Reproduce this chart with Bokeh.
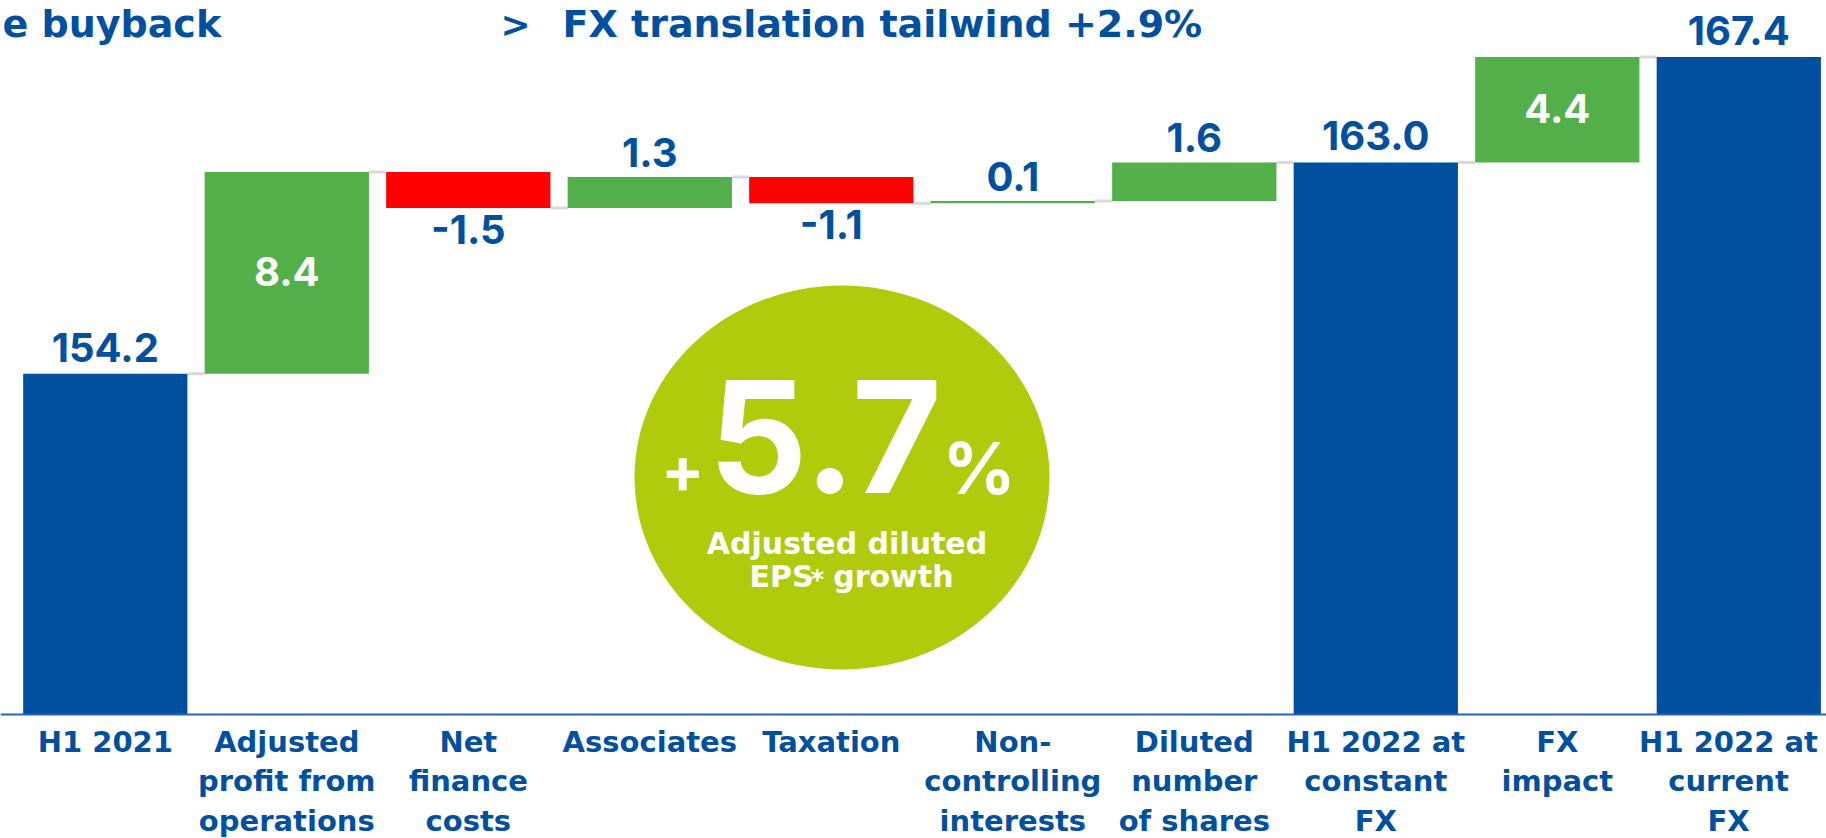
from bokeh.plotting import figure
from bokeh.models import Range1d, Span, ColumnDataSource
from bokeh.core.properties import value
from bokeh.embed import file_html
from bokeh.resources import INLINE

# ---------------- data ----------------
categories = ["H1 2021", "Adjusted profit from operations", "Net finance costs",
              "Associates", "Taxation", "Non-controlling interests",
              "Diluted number of shares", "H1 2022 at constant FX",
              "FX impact", "H1 2022 at current FX"]
tick_labels = ["H1 2021", "Adjusted\nprofit from\noperations", "Net\nfinance\ncosts",
               "Associates", "Taxation", "Non-\ncontrolling\ninterests",
               "Diluted\nnumber\nof shares", "H1 2022 at\nconstant\nFX",
               "FX\nimpact", "H1 2022 at\ncurrent\nFX"]
values = [154.2, 8.4, -1.5, 1.3, -1.1, 0.1, 1.6, 163.0, 4.4, 167.4]
is_total = [True, False, False, False, False, False, False, True, False, True]

header_left = "e buyback"
header_arrow = ">"
header_right = "FX translation tailwind +2.9%"
bubble_plus = "+"
bubble_value = "5.7"
bubble_pct = "%"
bubble_line1 = "Adjusted diluted"
bubble_eps = "EPS"
bubble_star = "*"
bubble_growth = "growth"

# ---------------- colours / fonts ----------------
BLUE = "#00509F"
GREEN = "#52AF49"
RED = "#FF0000"
LIME = "#AFCB0C"
GREY = "#D9D9D9"
WORD_FONT = value("DejaVu Sans")
NUM_FONT = value("Inter")

# ---------------- geometry ----------------
W, H = 1826, 838
K = 24.0          # px per unit
BASE = 140.0      # value at the baseline
PITCH = 181.5     # px per category
X0 = 104.8        # px of first category centre
BASE_PX = 714     # px (from top) of baseline
BW = 0.905        # bar width in category units
A = 0.39          # renderer's alphabetic-baseline shift, in em

x_start = -X0 / PITCH
x_end = (W - X0) / PITCH
y_top = BASE + BASE_PX / K
y_bot = BASE - (H - BASE_PX) / K


def fx(px):
    return x_start + px / PITCH


def fy(py):
    return y_top - py / K


def fb(py, size):
    """data y for an alphabetic baseline at page px py, for a font of size px"""
    return fy(py) + A * size / K


# ---------------- waterfall maths ----------------
n = len(values)
xs = list(range(n))
tops, bottoms, colors = [], [], []
run = 0.0
for v, t in zip(values, is_total):
    if t:
        bottoms.append(BASE)
        tops.append(v)
        run = v
        colors.append(BLUE)
    else:
        bottoms.append(run)
        run = round(run + v, 4)
        tops.append(run)
        colors.append(GREEN if v >= 0 else RED)

p = figure(width=W, height=H, output_backend="svg", toolbar_location=None,
           x_range=Range1d(x_start, x_end), y_range=Range1d(y_bot, y_top),
           x_axis_location=None, y_axis_location=None, min_border=0,
           outline_line_color=None, background_fill_color="white",
           border_fill_color="white")
p.grid.visible = False

# connectors
cx0 = [i + BW / 2 for i in range(n - 1)]
cx1 = [i + 1 - BW / 2 for i in range(n - 1)]
cy = [tops[i] for i in range(n - 1)]
p.segment(x0=cx0, y0=cy, x1=cx1, y1=cy, line_color=GREY, line_width=3)

# bars
src = ColumnDataSource(dict(x=xs, top=tops, bottom=bottoms, color=colors))
p.vbar(x="x", top="top", bottom="bottom", width=BW, fill_color="color",
       line_color=None, source=src)

# baseline
p.add_layout(Span(location=BASE, dimension="width", line_color="#2A63B2",
                  line_width=2))

# value labels
NUM_SIZE = 40
shift = A * NUM_SIZE / K
lab_x, lab_y, lab_t, lab_c = [], [], [], []
for i, (v, t) in enumerate(zip(values, is_total)):
    hi = max(tops[i], bottoms[i])
    lo = min(tops[i], bottoms[i])
    lab_x.append(i)
    lab_t.append(f"{v:.1f}")
    if t:
        lab_y.append(hi + 11 / K + shift)
        lab_c.append(BLUE)
    elif v >= 3:
        lab_y.append((hi + lo) / 2 - 14 / K + shift)
        lab_c.append("white")
    elif v >= 0:
        lab_y.append(hi + 9 / K + shift)
        lab_c.append(BLUE)
    else:
        lab_y.append(lo - 37 / K + shift)
        lab_c.append(BLUE)
p.text(x=lab_x, y=lab_y, text=lab_t, text_color=lab_c, text_font=NUM_FONT,
       text_font_style="bold", text_font_size=f"{NUM_SIZE}px", text_align="center",
       text_baseline="alphabetic", text_line_height=1.0)

# category labels
lab_cx = list(xs)
lab_cx[-1] = fx(1728)
p.text(x=lab_cx, y=[BASE - 10 / K] * n, text=tick_labels, text_color=BLUE,
       text_font=WORD_FONT, text_font_style="bold", text_font_size="29px",
       text_align="center", text_baseline="top", text_line_height=1.17)

# header
for txt, px, size in [(header_left, 2, 38), (header_arrow, 500, 36),
                      (header_right, 562, 38)]:
    p.text(x=[fx(px)], y=[fb(38, size)], text=[txt], text_color=BLUE,
           text_font=WORD_FONT, text_font_style="bold", text_font_size=f"{size}px",
           text_baseline="alphabetic", text_align="left", text_line_height=1.0)

# bubble
p.ellipse(x=[fx(841.5)], y=[fy(477)], width=[415], height=[384],
          width_units="screen", height_units="screen",
          fill_color=LIME, line_color=None)
p.text(x=[fx(704)], y=[fb(494, 64)], text=[bubble_plus], text_color="white",
       text_font=NUM_FONT, text_font_style="bold", text_font_size="64px",
       text_align="right", text_baseline="alphabetic", text_line_height=1.0)
p.text(x=[fx(708)], y=[fb(496, 155)], text=[bubble_value], text_color="white",
       text_font=NUM_FONT, text_font_style="bold", text_font_size="155px",
       text_align="left", text_baseline="alphabetic", text_line_height=1.0)
p.text(x=[fx(942)], y=[fb(495, 72)], text=[bubble_pct], text_color="white",
       text_font=NUM_FONT, text_font_style="bold", text_font_size="72px",
       text_align="left", text_baseline="alphabetic", text_line_height=1.0)
p.text(x=[fx(846.5)], y=[fb(555, 30)], text=[bubble_line1], text_color="white",
       text_font=WORD_FONT, text_font_style="bold", text_font_size="30px",
       text_align="center", text_baseline="alphabetic", text_line_height=1.0)
p.text(x=[fx(749)], y=[fb(588, 30)], text=[bubble_eps], text_color="white",
       text_font=WORD_FONT, text_font_style="bold", text_font_size="30px",
       text_align="left", text_baseline="alphabetic", text_line_height=1.0)
p.text(x=[fx(810)], y=[fb(590, 26)], text=[bubble_star], text_color="white",
       text_font=WORD_FONT, text_font_style="bold", text_font_size="26px",
       text_align="left", text_baseline="alphabetic", text_line_height=1.0)
p.text(x=[fx(953)], y=[fb(588, 30)], text=[bubble_growth], text_color="white",
       text_font=WORD_FONT, text_font_style="bold", text_font_size="30px",
       text_align="right", text_baseline="alphabetic", text_line_height=1.0)

open("out.html", "w").write(file_html(p, INLINE))
